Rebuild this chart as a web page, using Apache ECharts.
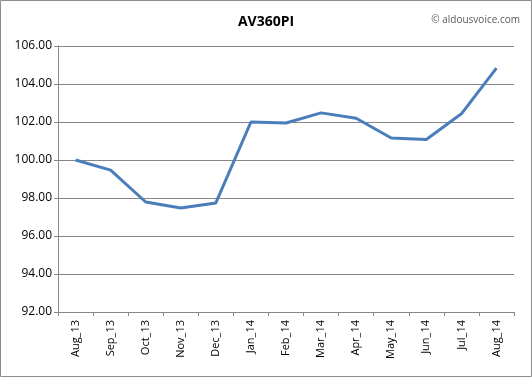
<!DOCTYPE html>
<html>
<head>
<meta charset="utf-8">
<script src="https://cdn.jsdelivr.net/npm/echarts@6/dist/echarts.min.js"></script>
<style>
  html, body { margin: 0; padding: 0; background: #fff; }
  #main { width: 532px; height: 377px; }
</style>
</head>
<body>
<div id="main"></div>
<script>
var months = ['Aug_13', 'Sep_13', 'Oct_13', 'Nov_13', 'Dec_13', 'Jan_14', 'Feb_14',
  'Mar_14', 'Apr_14', 'May_14', 'Jun_14', 'Jul_14', 'Aug_14'];
var indexValues = [100.0, 99.47, 97.79, 97.47, 97.74, 102.0, 101.95,
  102.48, 102.2, 101.16, 101.08, 102.43, 104.84];
var yTicks = { min: 92, max: 106, step: 2 };

var myChart = echarts.init(document.getElementById('main'));
var option = {
  animation: false,
  textStyle: { fontFamily: 'Open Sans' },
  title: {
    text: 'AV360PI',
    left: 'center',
    top: 10,
    textStyle: { fontSize: 14, fontWeight: 'bold', color: '#000' }
  },
  graphic: [
    {
      type: 'rect',
      shape: { x: 0.5, y: 0.5, width: 531, height: 376 },
      style: { fill: null, stroke: '#8c8c8c', lineWidth: 1 }
    },
    {
      type: 'text',
      right: 12,
      top: 15,
      style: { text: '© aldousvoice.com', fill: '#595959', fontSize: 10, fontFamily: 'Open Sans' }
    }
  ],
  grid: { left: 58, right: 18, top: 46, bottom: 65 },
  xAxis: {
    type: 'category',
    data: months,
    boundaryGap: true,
    axisLine: { lineStyle: { color: '#868686' } },
    axisTick: { show: true, length: 4, lineStyle: { color: '#868686' } },
    axisLabel: { rotate: 90, color: '#000', fontSize: 11, margin: 8 }
  },
  yAxis: {
    type: 'value',
    min: yTicks.min,
    max: yTicks.max,
    interval: yTicks.step,
    axisLine: { show: true, lineStyle: { color: '#868686' } },
    axisTick: { show: true, length: 4, lineStyle: { color: '#868686' } },
    axisLabel: {
      color: '#000',
      fontSize: 12,
      margin: 6,
      formatter: function (v) { return v.toFixed(2); }
    },
    splitLine: { lineStyle: { color: '#868686' } }
  },
  series: [
    {
      type: 'line',
      data: indexValues,
      symbol: 'none',
      lineStyle: { color: '#4a7ebb', width: 3 }
    }
  ]
};
myChart.setOption(option);
</script>
</body>
</html>
